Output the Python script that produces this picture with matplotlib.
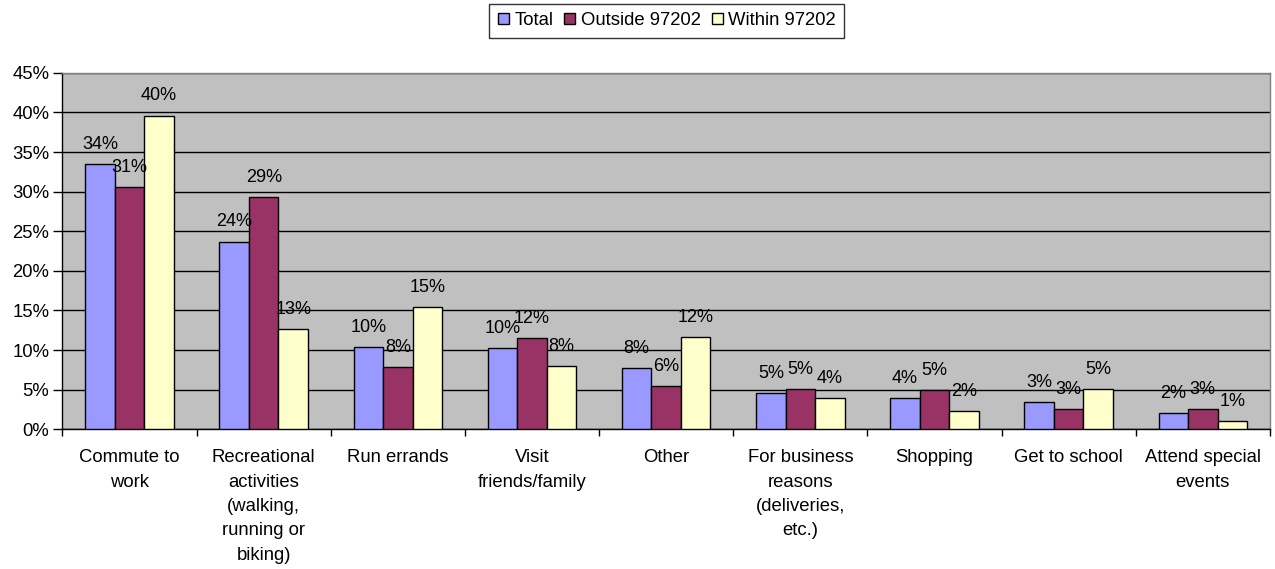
import numpy as np
import matplotlib
matplotlib.use("Agg")
import matplotlib.pyplot as plt
from matplotlib.ticker import FixedLocator, PercentFormatter

plt.rcParams["font.family"] = ["Liberation Sans", "DejaVu Sans"]

categories = [
    "Commute to\nwork",
    "Recreational\nactivities\n(walking,\nrunning or\nbiking)",
    "Run errands",
    "Visit\nfriends/family",
    "Other",
    "For business\nreasons\n(deliveries,\netc.)",
    "Shopping",
    "Get to school",
    "Attend special\nevents",
]
series_names = ["Total", "Outside 97202", "Within 97202"]
total = [33.5, 23.7, 10.4, 10.3, 7.7, 4.6, 4.0, 3.4, 2.0]
outside = [30.6, 29.3, 7.9, 11.5, 5.5, 5.1, 4.9, 2.6, 2.6]
within = [39.6, 12.7, 15.4, 8.0, 11.7, 3.9, 2.3, 5.1, 1.0]
colors = ["#9999FF", "#993366", "#FFFFCC"]

fig = plt.figure(figsize=(12.75, 5.69), dpi=100)
ax = fig.add_axes([0.049, 0.2455, 0.947, 0.6265])
ax.set_facecolor("#C0C0C0")

x = np.arange(len(categories))
width = 0.22
handles = []
for i, (vals, name, col) in enumerate(zip([total, outside, within], series_names, colors)):
    pos = x + (i - 1) * width
    bars = ax.bar(pos, vals, width, color=col, edgecolor="black", linewidth=1.0,
                  label=name, zorder=3)
    handles.append(bars)
    for xp, v in zip(pos, vals):
        ax.annotate(f"{v:.0f}%", (xp, v), xytext=(0, 8), textcoords="offset points",
                    ha="center", va="bottom", fontsize=13, zorder=4)

ax.set_xlim(-0.5, len(categories) - 0.5)
ax.set_ylim(0, 45)
ax.set_yticks(np.arange(0, 46, 5))
ax.yaxis.set_major_formatter(PercentFormatter(decimals=0))
ax.grid(axis="y", color="black", linewidth=1.0, zorder=1)

# category names centred, tick marks on the boundaries
ax.set_xticks(x)
ax.set_xticklabels(categories, linespacing=1.56)
ax.xaxis.set_minor_locator(FixedLocator(np.arange(-0.5, len(categories), 1.0)))
ax.tick_params(axis="x", which="major", length=0, pad=14.5, labelsize=13.3)
ax.tick_params(axis="x", which="minor", length=5, width=1, direction="out")
ax.tick_params(axis="y", length=6.5, width=1, direction="out", labelsize=13.3, pad=3)

for side in ["left", "bottom"]:
    ax.spines[side].set_color("black")
    ax.spines[side].set_linewidth(1.0)
for side in ["top", "right"]:
    ax.spines[side].set_color("#808080")
    ax.spines[side].set_linewidth(1.0)

leg = fig.legend(handles=handles, labels=series_names, loc="upper center",
                 bbox_to_anchor=(0.523, 0.993), ncol=3, fontsize=13.3, frameon=True,
                 fancybox=False, edgecolor="black", handlelength=0.6, handleheight=0.55,
                 handletextpad=0.3, columnspacing=0.6, borderpad=0.45, borderaxespad=0)
leg.get_frame().set_linewidth(1.0)

fig.savefig("out.png", dpi=100)
